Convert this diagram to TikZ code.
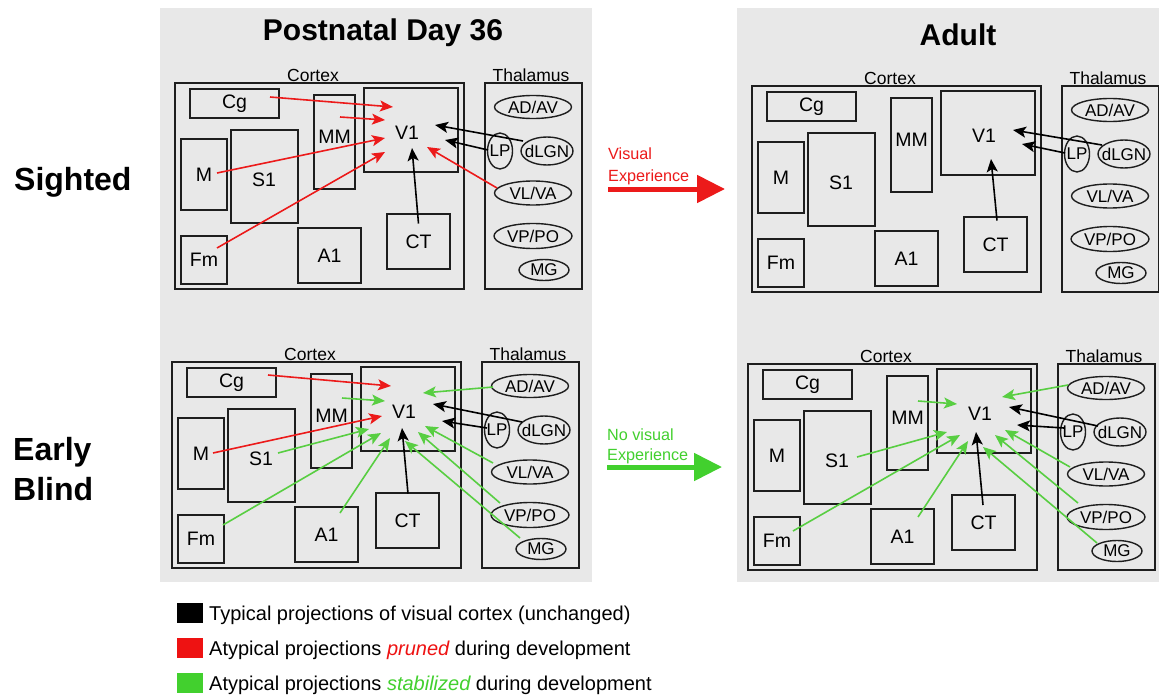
\documentclass[tikz,border=0pt]{standalone}
\usepackage{fontspec}
\setmainfont{Liberation Sans}
\usetikzlibrary{arrows.meta,calc,shapes.geometric}
\definecolor{bggray}{RGB}{232,232,232}
\definecolor{myred}{RGB}{236,26,26}
\definecolor{mygreen}{RGB}{88,206,66}
\definecolor{legred}{RGB}{238,18,18}
\definecolor{leggreen}{RGB}{66,208,46}
\definecolor{linec}{RGB}{30,30,30}
\tikzset{
  box/.style={draw=linec, line width=1.4pt, inner sep=0pt, font=\fontsize{19.5}{22}\selectfont},
  txt/.style={inner sep=0pt, font=\fontsize{19.5}{22}\selectfont},
  ell/.style={draw=linec, line width=1.4pt, ellipse, inner sep=0pt},
  ellab/.style={inner sep=0pt, font=\fontsize{17}{19}\selectfont},
  grp/.style={inner sep=0pt, font=\fontsize{17.5}{20}\selectfont},
  conn/.style={line width=1.6pt, -{Stealth[length=13pt,width=11pt,inset=3pt]}},
  bigarr/.style={line width=5pt, -{Triangle[length=28pt,width=27pt]}},
  ttl/.style={inner sep=0pt, font=\bfseries\fontsize{30}{36}\selectfont},
  rowlab/.style={inner sep=0pt, anchor=base west, font=\bfseries\fontsize{32}{38}\selectfont},
  bigtxt/.style={inner sep=0pt, anchor=base west, font=\fontsize{16.2}{19}\selectfont},
  legtxt/.style={inner sep=0pt, anchor=base west, font=\fontsize{20}{24}\selectfont},
  legsq/.style={inner sep=0pt, minimum width=26pt, minimum height=20pt}
}
% #1 prefix, #2 shift, #3 CT centre x
\newcommand\panel[3]{%
\begin{scope}[shift={#2}]
  \node[grp] (#1cxl) at (313,75) {Cortex};
  \node[grp] (#1thl) at (531,75) {Thalamus};
  \node[box, minimum width=289pt, minimum height=206pt] (#1ctx) at (319.5,186) {};
  \node[box, minimum width=97pt, minimum height=206pt] (#1tha) at (533.5,186) {};
  \node[box, minimum width=89pt, minimum height=29pt] (#1cg) at (234.5,103.5) {Cg};
  \node[box, minimum width=41pt, minimum height=94pt] (#1mm) at (334.5,142) {};
  \node[txt] (#1mmt) at (334.5,137) {MM};
  \node[box, minimum width=94pt, minimum height=84pt] (#1v1) at (411,130) {};
  \node[txt] (#1v1t) at (407,133) {V1};
  \node[box, minimum width=46pt, minimum height=71pt] (#1m) at (204,174.5) {M};
  \node[box, minimum width=67pt, minimum height=93pt] (#1s1) at (264.5,176.5) {};
  \node[txt] (#1s1t) at (264,180) {S1};
  \node[box, minimum width=46pt, minimum height=48pt] (#1fm) at (204,260) {Fm};
  \node[box, minimum width=63pt, minimum height=55pt] (#1a1) at (329.5,255.5) {A1};
  \node[box, minimum width=63pt, minimum height=55pt] (#1ct) at (#3,241.5) {CT};
  \node[ell, minimum width=77pt, minimum height=23pt, label={[ellab]center:AD/AV}] (#1ad) at (533,107) {};
  \node[ell, minimum width=25pt, minimum height=36pt, label={[ellab]center:LP}] (#1lp) at (500,151) {};
  \node[ell, minimum width=52pt, minimum height=28pt, label={[ellab]center:dLGN}] (#1dl) at (547,151) {};
  \node[ell, minimum width=77pt, minimum height=24pt, label={[ellab]center:VL/VA}] (#1vl) at (533,193) {};
  \node[ell, minimum width=78pt, minimum height=25pt, label={[ellab]center:VP/PO}] (#1vp) at (533,236) {};
  \node[ell, minimum width=50pt, minimum height=21pt, label={[ellab]center:MG}] (#1mg) at (544,270) {};
\end{scope}}
\newcommand\arw[5]{\draw[conn,#1] ($(#2)+(#3)$) -- ($(#4)+(#5)$);}
\begin{document}
\begin{tikzpicture}[x=1pt,y=-1pt]
\useasboundingbox (0,0) rectangle (1159,698);
\fill[white] (0,0) rectangle (1159,698);
\fill[bggray] (160,8) rectangle (592,582);
\fill[bggray] (737,8) rectangle (1159,582);

\node[ttl, anchor=base] (tpn) at (383,41) {Postnatal Day 36};
\node[ttl, anchor=base] (tad) at (958,46) {Adult};
\node[rowlab] (rsig) at (14,190) {Sighted};
\node[rowlab] (rear) at (13,460) {Early};
\node[rowlab] (rbli) at (13,500) {Blind};

\panel{tl}{(0,0)}{418.5}
\panel{tr}{(577,3)}{418.5}
\panel{bl}{(-3,279)}{410.5}
\panel{br}{(573,281)}{410.5}

% top left
\arw{myred}{tlcg}{35.5,-6.5}{tlv1t}{-14,-26}
\arw{myred}{tlmm}{5.5,-25}{tlv1t}{-22,-13}
\arw{myred}{tlm}{13,-1.5}{tlv1t}{-22,5}
\arw{myred}{tlfm}{13,-12}{tlv1t}{-22,19}
\arw{myred}{tlvl}{-36,-5}{tlv1t}{20,14}
\arw{black}{tlct}{0,-18}{tlv1t}{5,15}
\arw{black}{tldl}{-24,-10}{tlv1t}{28,-8}
\arw{black}{tllp}{-12,-1}{tlv1t}{38,7}
% top right
\arw{black}{trct}{1.5,-24}{trv1t}{7,23}
\arw{black}{trdl}{-22,-9}{trv1t}{29,-6}
\arw{black}{trlp}{-12,-1}{trv1t}{38,8}
% bottom left
\arw{myred}{blcg}{36.5,-7.5}{blv1t}{-13,-26}
\arw{mygreen}{blmm}{10.5,-23}{blv1t}{-19,-11}
\arw{myred}{blm}{12,-0.5}{blv1t}{-22,4}
\arw{mygreen}{bls1}{16.5,-2.5}{blv1t}{-35,17}
\arw{mygreen}{blfm}{22,-14}{blv1t}{-23,21}
\arw{mygreen}{bla1}{13.5,-21.5}{blv1t}{-14,26}
\arw{black}{blct}{0.5,-27}{blv1t}{-2,16}
\arw{mygreen}{blad}{-37,1}{blv1t}{19,-19}
\arw{black}{bldl}{-22,-8}{blv1t}{29,-8}
\arw{black}{bllp}{-10,-2}{blv1t}{38,9}
\arw{mygreen}{blvl}{-37,-9}{blv1t}{21,14}
\arw{mygreen}{blvp}{-30,-12}{blv1t}{14,20}
\arw{mygreen}{blmg}{-21,-11}{blv1t}{1,29}
% bottom right
\arw{mygreen}{brmm}{10.5,-22}{brv1t}{-23,-10}
\arw{mygreen}{brs1}{19.5,-0.5}{brv1t}{-33,18}
\arw{mygreen}{brfm}{16,-10}{brv1t}{-20,21}
\arw{mygreen}{bra1}{15.5,-19.5}{brv1t}{-12,27}
\arw{black}{brct}{-0.5,-17.5}{brv1t}{-4,18}
\arw{mygreen}{brad}{-38,-3}{brv1t}{22,-17}
\arw{black}{brdl}{-22,-6}{brv1t}{29,-7}
\arw{black}{brlp}{-9,-4}{brv1t}{37,11}
\arw{mygreen}{brvl}{-36,-7}{brv1t}{25,16}
\arw{mygreen}{brvp}{-28,-14}{brv1t}{15,21}
\arw{mygreen}{brmg}{-20,-8}{brv1t}{3,33}

% big arrows
\node[bigtxt, text=myred] (ve1) at (608,160) {Visual};
\node[bigtxt, text=myred] (ve2) at (608,181) {Experience};
\coordinate (rs) at (608,189);
\coordinate (re) at (725,189);
\draw[bigarr, myred] (rs) -- (re);
\node[bigtxt, text=leggreen] (nv1) at (607,440) {No visual};
\node[bigtxt, text=leggreen] (nv2) at (607,460) {Experience};
\coordinate (gs) at (607,467);
\coordinate (ge) at (722,467);
\draw[bigarr, leggreen] (gs) -- (ge);

% legend
\node[legsq, fill=black] (lk) at (190,613) {};
\node[legsq, fill=legred] (lr) at (190,648) {};
\node[legsq, fill=leggreen] (lg) at (190,683) {};
\node[legtxt] (lkt) at (209,620) {Typical projections of visual cortex (unchanged)};
\node[legtxt] (lrt) at (209,655) {Atypical projections {\color{legred}\itshape pruned} during development};
\node[legtxt] (lgt) at (209,690) {Atypical projections {\color{leggreen}\itshape stabilized} during development};
\end{tikzpicture}
\end{document}
